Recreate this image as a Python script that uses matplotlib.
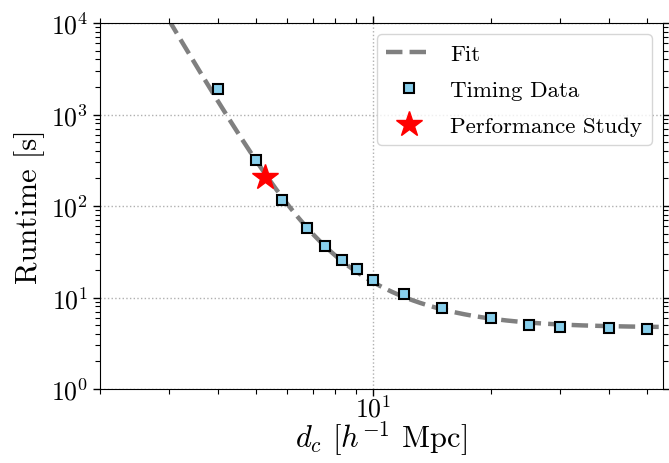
import numpy as np
import matplotlib
matplotlib.use("Agg")
import matplotlib.pyplot as plt
from matplotlib.ticker import NullFormatter, FuncFormatter

plt.rcParams['font.family'] = 'serif'
plt.rcParams['font.serif'] = ['cmr10']
plt.rcParams['mathtext.fontset'] = 'cm'
plt.rcParams['axes.unicode_minus'] = False

# Timing data
d_c = [4.0, 5.0, 5.84, 6.76, 7.54, 8.33, 9.07, 10.0, 12.0, 15.0, 20.0, 25.0, 30.0, 40.0, 50.0]
runtime = [1900, 321, 117, 57, 36.8, 25.9, 20.3, 15.7, 10.9, 7.62, 5.93, 5.0, 4.72, 4.64, 4.5]

# Performance study point
study_d = [5.28]
study_t = [206]

# Fit model parameters: a*(x/5)^-p + b*(x/10)^-q + c
fit_a, fit_p = 255.0, 7.28
fit_b, fit_q = 8.3, 2.83
fit_c = 4.7

x_fit = np.logspace(np.log10(2.0), np.log10(55.0), 400)
y_fit = fit_a * (x_fit / 5.0) ** (-fit_p) + fit_b * (x_fit / 10.0) ** (-fit_q) + fit_c

fig = plt.figure(figsize=(6.69, 4.64), dpi=100)
ax = fig.add_axes([100/669, 74/464, 563/669, 366/464])

ax.plot(x_fit, y_fit, ls='--', color='gray', lw=3.2, label='Fit', zorder=2)
ax.plot(d_c, runtime, ls='none', marker='s', ms=7, mfc='skyblue', mec='black', mew=1.5,
        label='Timing Data', zorder=3)
ax.plot(study_d, study_t, ls='none', marker='*', ms=19, color='red', mec='red',
        label='Performance Study', zorder=4)

ax.set_xscale('log')
ax.set_yscale('log')
ax.set_xlim(2.0, 55.0)
ax.set_ylim(1, 1e4)

pow_fmt = FuncFormatter(lambda v, pos: r'$10^{%d}$' % int(round(np.log10(v))))
ax.xaxis.set_major_formatter(pow_fmt)
ax.yaxis.set_major_formatter(pow_fmt)
ax.xaxis.set_minor_formatter(NullFormatter())
ax.yaxis.set_minor_formatter(NullFormatter())

ax.grid(True, which='major', ls=':', color='#b0b0b0', lw=1.0)
ax.tick_params(which='both', direction='out', top=True, right=True, labelsize=18.5)
ax.tick_params(which='major', length=5, width=1)
ax.tick_params(which='minor', length=3.5, width=0.8)
ax.tick_params(axis='x', which='major', pad=15)
for lab in ax.get_xticklabels():
    lab.set_verticalalignment('baseline')

ax.set_xlabel(r'$d_c$ [$h^{-1}$ Mpc]', fontsize=22, va='baseline')
ax.xaxis.set_label_coords(0.5, -0.158)
ax.set_ylabel('Runtime [s]', fontsize=22)

ax.legend(loc='upper right', fontsize=16.5, labelspacing=0.7)

fig.savefig('out.png', dpi=100)
